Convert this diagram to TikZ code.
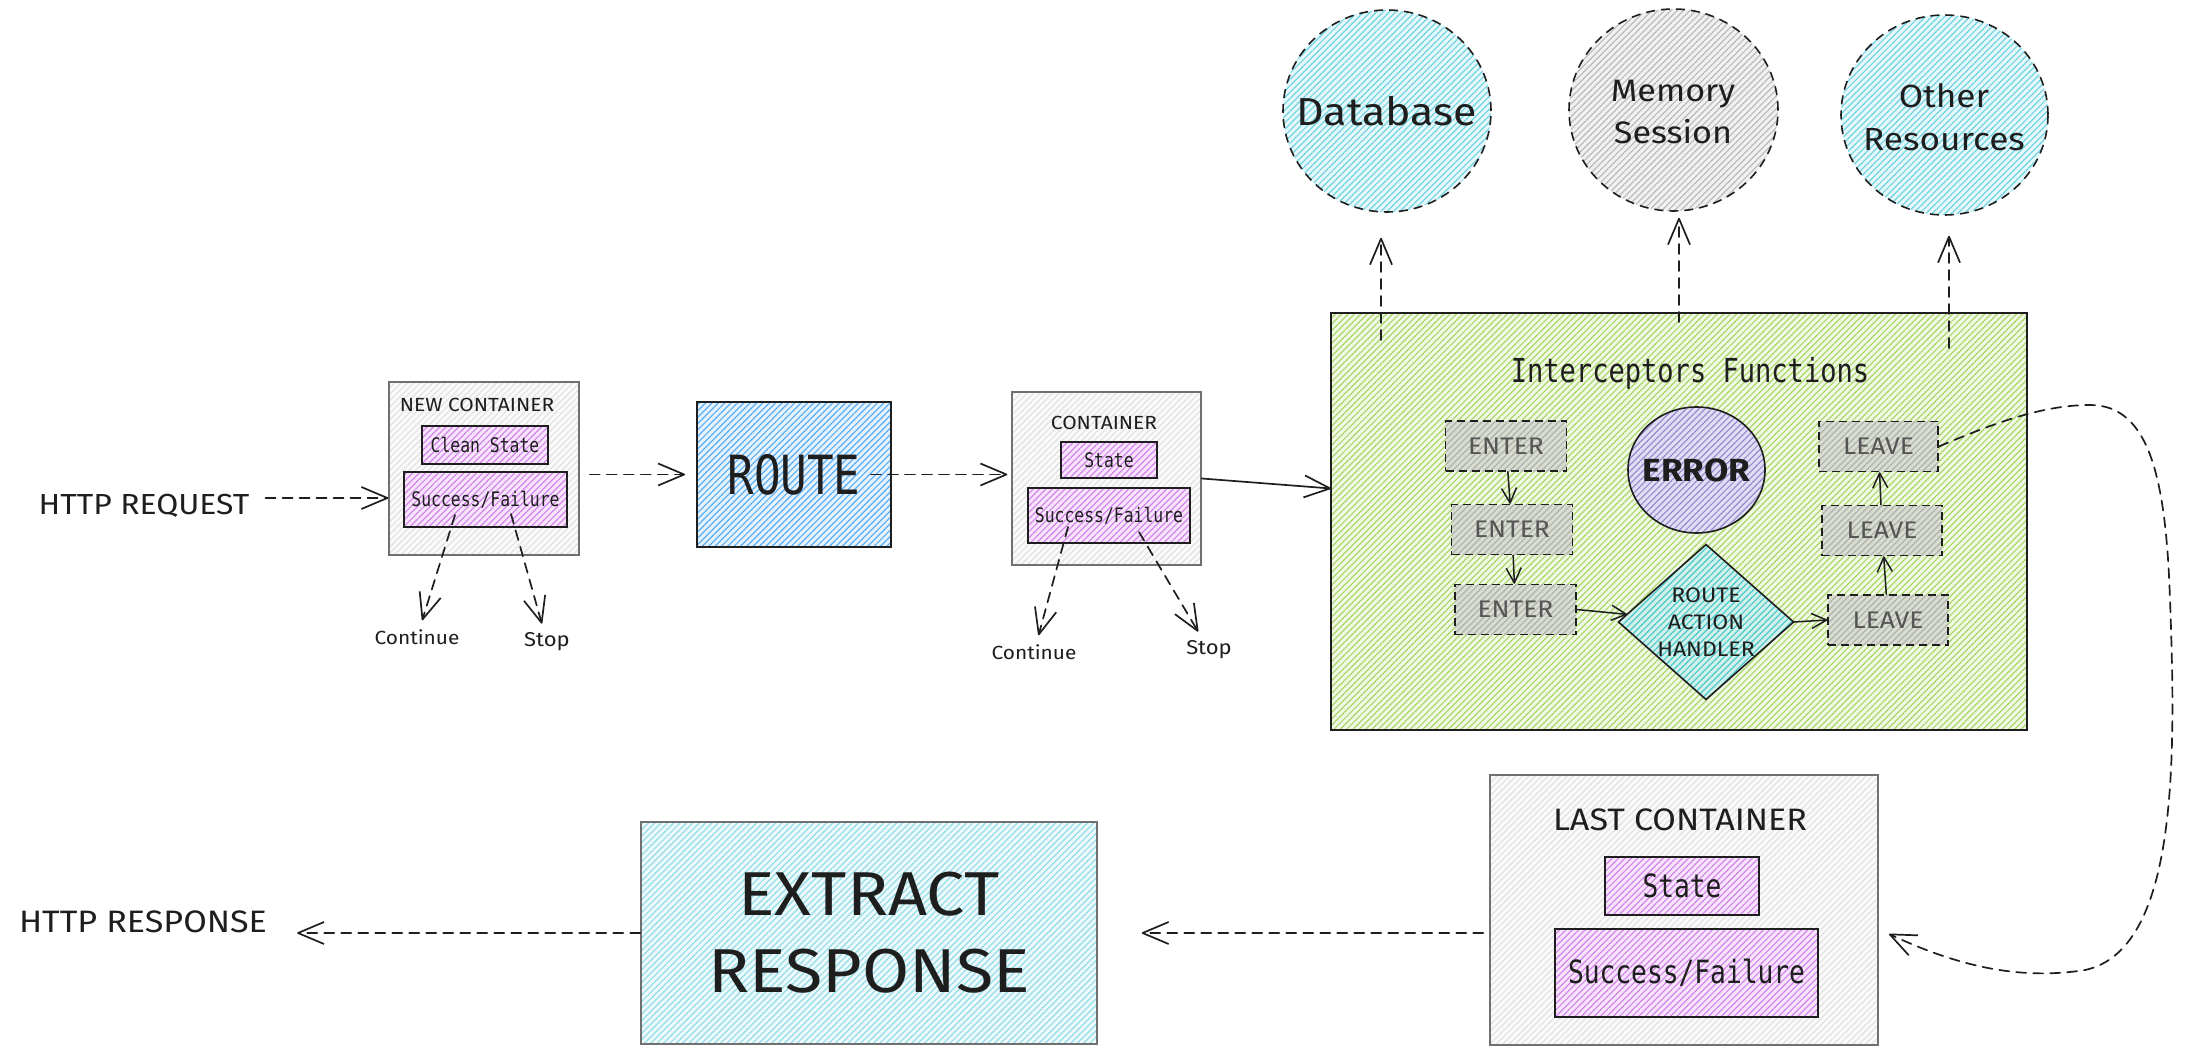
\documentclass[tikz,border=0pt]{standalone}
\usepackage{fontspec}
\usetikzlibrary{arrows.meta,shapes.geometric,patterns.meta,calc}
\newfontfamily\handfnt[FakeStretch=1.1]{Fira Sans}
\newfontfamily\codefnt[FakeStretch=0.82]{DejaVu Sans Mono}
\newcommand\fsz[2]{\fontsize{#1}{#2}\selectfont}

\definecolor{contbg}{HTML}{FAFAFA}
\definecolor{contln}{HTML}{E2E2E2}
\definecolor{contdraw}{HTML}{707070}
\definecolor{purplebg}{HTML}{F7E6FB}
\definecolor{purpleln}{HTML}{D484EC}
\definecolor{routebg}{HTML}{E6F2FD}
\definecolor{routeln}{HTML}{5AAEF5}
\definecolor{greenbg}{HTML}{F2F8E6}
\definecolor{greenln}{HTML}{A8D868}
\definecolor{stagebg}{HTML}{D8DCD2}
\definecolor{stageln}{HTML}{AEB3A8}
\definecolor{stagetxt}{HTML}{555555}
\definecolor{errbg}{HTML}{E2DEF2}
\definecolor{errln}{HTML}{978BD4}
\definecolor{rahbg}{HTML}{D2F1E8}
\definecolor{rahln}{HTML}{4CC7CF}
\definecolor{resbg}{HTML}{E6F8FA}
\definecolor{resln}{HTML}{72D4E2}
\definecolor{membg}{HTML}{F1F1F1}
\definecolor{memln}{HTML}{BBBBBB}
\definecolor{extbg}{HTML}{EDF9FB}
\definecolor{extln}{HTML}{92DDE7}
\definecolor{ink}{HTML}{1E1E1E}

\tikzset{
  hatch/.style 2 args={preaction={fill=#1},
    preaction={pattern={Lines[angle=45,distance=4.5pt,line width=1.2pt]},pattern color=#2}},
  box/.style={draw=ink, line width=1.6pt, inner sep=0pt, outer sep=0pt},
  cont/.style={draw=contdraw, line width=1.5pt, inner sep=0pt, hatch={contbg}{contln}},
  pbox/.style={box, hatch={purplebg}{purpleln}},
  stage/.style={draw=ink, line width=1.5pt, dash pattern=on 8pt off 5pt,
    hatch={stagebg}{stageln}, inner sep=0pt, minimum width=121pt, minimum height=50pt,
    text=stagetxt, font=\handfnt\fsz{24}{28}},
  res/.style={ellipse, draw=ink, line width=1.6pt, dash pattern=on 9pt off 6pt, inner sep=0pt},
  hand/.style={font=\handfnt\fsz{#1}{#1}, text=ink},
  code/.style={font=\codefnt\fsz{#1}{#1}, text=ink},
  arr/.style={draw=ink, line width=1.7pt, dash pattern=on 10pt off 7pt, line cap=round,
    -{Straight Barb[length=26pt,width=22pt,line join=round]}},
  arrsolid/.style={draw=ink, line width=1.7pt, line cap=round,
    -{Straight Barb[length=26pt,width=22pt,line join=round]}},
  small/.style={draw=ink, line width=1.5pt, line cap=round,
    -{Straight Barb[length=15pt,width=15pt,line join=round]}},
}

\begin{document}
\begin{tikzpicture}[x=1pt,y=-1pt]
\fill[white] (0,0) rectangle (2185,1064);

% ---------- request side ----------
\node[hand=29, inner sep=4pt] (req) at (144,506) {HTTP REQUEST};

\node[cont, minimum width=190pt, minimum height=173pt] (nc) at (484,468.5) {};
\node[hand=19] (nct) at (477,405) {NEW CONTAINER};
\node[pbox, minimum width=126pt, minimum height=38pt, code=20] (cs) at (485,445) {Clean State};
\node[pbox, minimum width=163pt, minimum height=55pt, code=20] (sf1) at (485.5,499.5) {Success/Failure};
\node[hand=19, inner sep=9pt] (cont1) at (417,637) {Continue};
\node[hand=20, inner sep=9pt] (stop1) at (547,642) {Stop};
\coordinate (sf1a) at (455,515);
\coordinate (sf1b) at (511,514);

\node[box, hatch={routebg}{routeln}, minimum width=194pt, minimum height=145pt, code=54] (route) at (794,474.5) {ROUTE};

\node[cont, minimum width=189pt, minimum height=173pt] (c2) at (1106.5,478.5) {};
\node[hand=19] (c2t) at (1104,423) {CONTAINER};
\node[pbox, minimum width=96pt, minimum height=36pt, code=20] (st2) at (1109,460) {State};
\node[pbox, minimum width=162pt, minimum height=55pt, code=20] (sf2) at (1109,515.5) {Success/Failure};
\node[hand=19, inner sep=9pt] (cont2) at (1034,652) {Continue};
\node[hand=20, inner sep=9pt] (stop2) at (1209,650) {Stop};
\coordinate (sf2a) at (1068,527);
\coordinate (sf2b) at (1139,532);

% ---------- interceptors ----------
\node[box, hatch={greenbg}{greenln}, minimum width=696pt, minimum height=417pt] (inter) at (1679,521.5) {};
\node[code=33] (intt) at (1690,373) {Interceptors Functions};

\node[stage] (en1) at (1506,446) {ENTER};
\node[stage] (en2) at (1512,529.5) {ENTER};
\node[stage] (en3) at (1515.5,609.5) {ENTER};

\node[ellipse, box, hatch={errbg}{errln}, minimum width=137pt, minimum height=126pt] (err) at (1696.5,470) {};
\node[font=\handfnt\bfseries\fsz{32}{36}, text=ink] (errt) at (err) {ERROR};

\node[diamond, aspect=1.13, box, hatch={rahbg}{rahln}, minimum width=170pt, minimum height=150pt,
      align=center, text=ink, font=\handfnt\fsz{21}{27}] (rah) at (1706,622) {ROUTE\\ACTION\\HANDLER};

\node[stage, minimum width=119pt] (lv1) at (1878.5,446.5) {LEAVE};
\node[stage, minimum width=120pt] (lv2) at (1882,530.5) {LEAVE};
\node[stage, minimum width=120pt] (lv3) at (1888,620) {LEAVE};

% ---------- resources ----------
\node[res, hatch={resbg}{resln}, minimum width=208pt, minimum height=202pt] (db) at (1387,111) {};
\node[hand=39] (dbt) at (db) {Database};
\node[res, hatch={membg}{memln}, minimum width=209pt, minimum height=202pt] (mem) at (1673.5,110) {};
\node[align=center, text=ink, font=\handfnt\fsz{31}{42}] (memt) at (1673,112) {Memory\\Session};
\node[res, hatch={resbg}{resln}, minimum width=207pt, minimum height=200pt] (oth) at (1944.5,115) {};
\node[align=center, text=ink, font=\handfnt\fsz{32}{43}] (otht) at (1944,117) {Other\\Resources};
\coordinate (dbfoot) at (1381,340);
\coordinate (memfoot) at (1679,322);
\coordinate (othfoot) at (1949,348);

% ---------- response side ----------
\node[cont, minimum width=388pt, minimum height=270pt] (lastc) at (1684,910) {};
\node[hand=31] (lct) at (1680,820) {LAST CONTAINER};
\node[pbox, minimum width=154pt, minimum height=58pt, code=32] (st3) at (1682,886) {State};
\node[pbox, minimum width=263pt, minimum height=88pt, code=32] (sf3) at (1686.5,973) {Success/Failure};

\node[draw=contdraw, line width=1.5pt, inner sep=0pt, hatch={extbg}{extln}, minimum width=456pt, minimum height=222pt,
      align=center, font=\handfnt\fsz{62}{77}, text=ink] (ext) at (869,933) {EXTRACT\\RESPONSE};
\node[hand=31, inner sep=4pt] (resp) at (143,922) {HTTP RESPONSE};
\coordinate (lastin) at (1889,934);

% ---------- connectors ----------
\draw[arr, shorten <=12pt] ($(req.east)+(0,-8)$) -- ($(req.east -| nc.west)+(0,-8)$);
\draw[arr, shorten <=10pt, shorten >=12pt] (nc.east |- route.west) -- (route.west);
\draw[arr] (sf1a) -- (cont1);
\draw[arr] (sf1b) -- (stop1);
\draw[arr, shorten >=4pt] ([xshift=-20pt]route.east) -- (c2.west |- route.east);
\draw[arr] (sf2a) -- (cont2);
\draw[arr] (sf2b) -- (stop2);
\draw[arrsolid] (c2.east) -- ($(inter.west |- c2.east)+(0,10)$);

\draw[small] (en1) -- (en2);
\draw[small] (en2) -- (en3);
\draw[small] (en3.east) -- (rah);
\draw[small] (rah.east) -- (lv3.west);
\draw[small] (lv3) -- (lv2);
\draw[small] (lv2) -- (lv1);

\draw[arr, shorten >=25pt] (dbfoot) -- (dbfoot |- db.south);
\draw[arr, shorten >=6pt] (memfoot) -- (memfoot |- mem.south);
\draw[arr, shorten >=20pt] (othfoot) -- (othfoot |- oth.south);

\draw[arr] (lv1.east) .. controls (1990,425) and (2040,405) .. (2090,405)
  .. controls (2150,405) and (2166,480) .. (2170,600)
  .. controls (2176,760) and (2178,950) .. (2085,970)
  .. controls (2010,982) and (1945,960) .. (lastin);

\draw[arr, shorten <=6pt, shorten >=44pt] (lastc.west |- ext.east) -- (ext.east);
\draw[arr, shorten >=26pt] (ext.west) -- (ext.west -| resp.east);
\end{tikzpicture}
\end{document}
